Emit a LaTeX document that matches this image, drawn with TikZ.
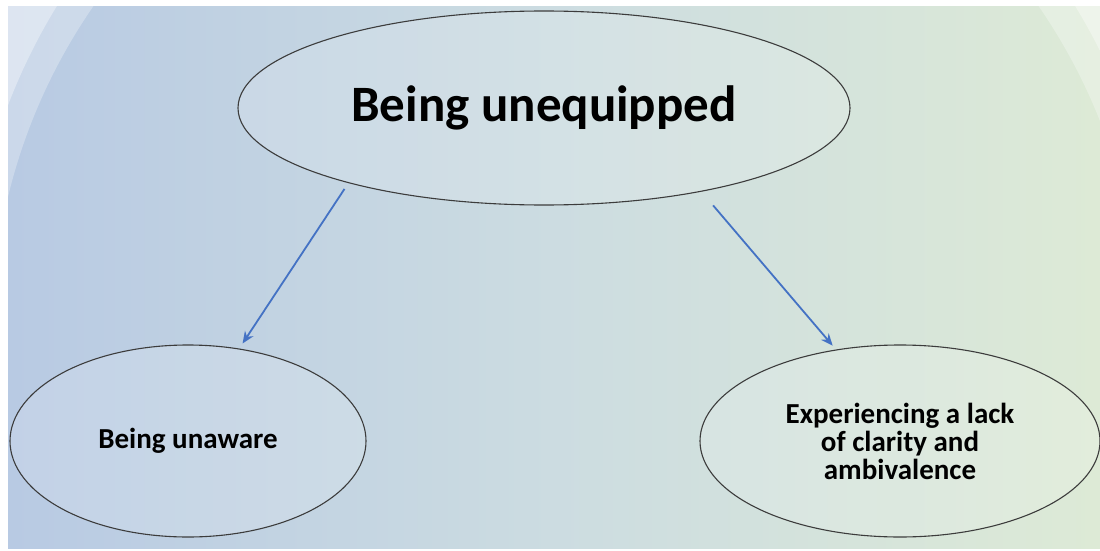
\documentclass[tikz,border=0pt]{standalone}
\usepackage{fontspec}
\setmainfont{Carlito}
\usetikzlibrary{arrows.meta,shapes.geometric}

\definecolor{bgleft}{HTML}{B8CAE3}
\definecolor{bgmid}{HTML}{CCDCE1}
\definecolor{bgright}{HTML}{DDEAD6}
\definecolor{linkblue}{HTML}{4472C4}
\definecolor{rim}{HTML}{3C3C3C}

\tikzset{
  bubble/.style={ellipse, draw=rim, line width=1.1pt, fill=white, fill opacity=0.15,
    text opacity=1, inner sep=0pt, align=center, font=\bfseries},
  link/.style={draw=linkblue, line width=1.8pt, -{Stealth[length=12pt,width=10pt]}}
}

\begin{document}
\begin{tikzpicture}[x=1pt,y=-1pt]
  \useasboundingbox (0,0) rectangle (1100,551);
  \fill[white] (0,0) rectangle (1100,551);

  % backdrop panel with a soft left-to-right tint
  \begin{scope}
    \clip (8,7) rectangle (1100,548);
    \shade[left color=bgleft, right color=bgright, middle color=bgmid] (8,7) rectangle (1100,548);
  \end{scope}
  % glossy rims in the upper corners, outside two large circles
  \begin{scope}
    \clip (8,7) rectangle (1100,318);
    \fill[white, opacity=0.28, even odd rule] (0,0) rectangle (1200,340) (566,332) circle[radius=574];
    \fill[white, opacity=0.35, even odd rule] (0,0) rectangle (1200,340) (566,318) circle[radius=597];
  \end{scope}

  \node[bubble, minimum width=612pt, minimum height=194pt, font=\bfseries\fontsize{51}{58}\selectfont]
    (top) at (544,108) {Being unequipped};
  \node[bubble, minimum width=356pt, minimum height=192pt, font=\bfseries\fontsize{29}{28}\selectfont]
    (left) at (188,441) {Being unaware};
  \node[bubble, minimum width=400pt, minimum height=192pt, font=\bfseries\fontsize{29}{28}\selectfont]
    (right) at (900,441) {Experiencing a lack\\of clarity and\\ambivalence};

  \draw[link, shorten <=7pt, shorten >=6pt] (top.201) -- (left.61);
  \draw[link, shorten <=18pt, shorten >=5pt] (top.-28.3) -- (right.125.3);
\end{tikzpicture}
\end{document}
